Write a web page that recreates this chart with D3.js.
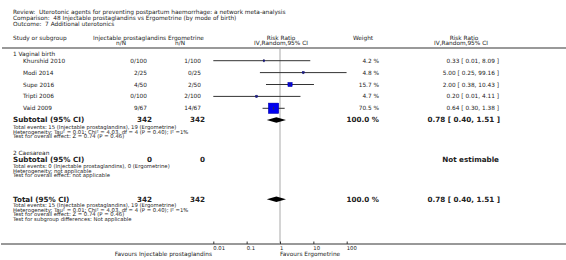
<!DOCTYPE html>
<html>
<head>
<meta charset="utf-8">
<script src="https://cdn.jsdelivr.net/npm/d3@7"></script>
<style>
  body { margin: 0; background: #fff; }
  text { font-family: "DejaVu Sans", Verdana, sans-serif; fill: #222; white-space: pre; }
</style>
</head>
<body>
<div id="chart"></div>
<script>
// titles
const titleLines = [
    "Review:  Uterotonic agents for preventing postpartum haemorrhage: a network meta-analysis",
    "Comparison:  48 Injectable prostaglandins vs Ergometrine (by mode of birth)",
    "Outcome:  7 Additional uterotonics"
];

// study data (subgroup 1: vaginal birth)
const studies = ["Khurshid 2010", "Modi 2014", "Supe 2016", "Tripti 2006", "Vaid 2009"];
const eventsInj = ["0/100", "2/25", "4/50", "0/100", "9/67"];
const eventsErg = ["1/100", "0/25", "2/50", "2/100", "14/67"];
const rr = [0.33, 5.00, 2.00, 0.20, 0.64];
const rrLow = [0.01, 0.25, 0.38, 0.01, 0.30];
const rrHigh = [8.09, 99.16, 10.43, 4.11, 1.38];
const weights = [4.2, 4.8, 15.7, 4.7, 70.5];

// pooled results
const pooled = {rr: 0.78, low: 0.40, high: 1.51};
const subtotalN = ["342", "342"];
const caesareanN = ["0", "0"];

const sub1Notes = [
    "Total events: 15 (Injectable prostaglandins), 19 (Ergometrine)",
    "Heterogeneity: Tau\u00b2 = 0.01; Chi\u00b2 = 4.03, df = 4 (P = 0.40); I\u00b2 =1%",
    "Test for overall effect: Z = 0.74 (P = 0.46)"
];
const sub2Notes = [
    "Total events: 0 (Injectable prostaglandins), 0 (Ergometrine)",
    "Heterogeneity: not applicable",
    "Test for overall effect: not applicable"
];
const totalNotes = [
    "Total events: 15 (Injectable prostaglandins), 19 (Ergometrine)",
    "Heterogeneity: Tau\u00b2 = 0.01; Chi\u00b2 = 4.03, df = 4 (P = 0.40); I\u00b2 =1%",
    "Test for overall effect: Z = 0.74 (P = 0.46)",
    "Test for subgroup differences: Not applicable"
];

const axisTicks = [0.01, 0.1, 1, 10, 100];
const tickLabels = ["0.01", "0.1", "1", "10", "100"];

const width = 566, height = 260;
const fmt = d3.format(".2f");
const fs = 5.8;

const svg = d3.select("#chart").append("svg")
    .attr("width", width)
    .attr("height", height);

// column positions
const col = {study: 13, indent: 23, injR: 147, ergR: 201, weightR: 379, rrR: 499};

// log scale for the forest plot
const x = d3.scaleLog().domain([0.01, 100]).range([213.3, 346.7]);

// title block
svg.selectAll(".title")
    .data(titleLines)
    .join("text")
    .attr("x", col.study)
    .attr("y", (d, i) => 13.8 + i * 6.1)
    .attr("font-size", fs)
    .text(d => d);

// header
const hdr = svg.append("g").attr("font-size", fs);
svg.append("clipPath").attr("id", "injclip")
    .append("rect").attr("x", 0).attr("y", 0).attr("width", 168).attr("height", 60);
hdr.append("text").attr("x", col.study).attr("y", 39.5).text("Study or subgroup");
hdr.append("text").attr("x", 93).attr("y", 39.5).attr("clip-path", "url(#injclip)").text("Injectable prostaglandins");
hdr.append("text").attr("x", 121).attr("y", 45).attr("text-anchor", "middle").text("n/N");
hdr.append("text").attr("x", 168).attr("y", 39.5).text("Ergometrine");
hdr.append("text").attr("x", 180).attr("y", 45).attr("text-anchor", "middle").text("n/N");
hdr.append("text").attr("x", 281).attr("y", 39.5).attr("text-anchor", "middle").text("Risk Ratio");
hdr.append("text").attr("x", 281).attr("y", 45).attr("text-anchor", "middle").text("IV,Random,95% CI");
hdr.append("text").attr("x", 363).attr("y", 39.5).attr("text-anchor", "middle").text("Weight");
hdr.append("text").attr("x", 464).attr("y", 39.5).attr("text-anchor", "middle").text("Risk Ratio");
hdr.append("text").attr("x", 461).attr("y", 45).attr("text-anchor", "middle").text("IV,Random,95% CI");

svg.append("line")
    .attr("x1", 2).attr("x2", width).attr("y1", 48).attr("y2", 48)
    .attr("stroke", "#999").attr("stroke-width", 2);

// line of no effect
svg.append("line")
    .attr("x1", x(1)).attr("x2", x(1)).attr("y1", 49).attr("y2", 243)
    .attr("stroke", "#d4d4d4").attr("stroke-width", 2);

// rows
const yStudy = d3.scalePoint().domain(studies).range([60.7, 108.3]);

svg.append("text").attr("x", col.study).attr("y", 56).attr("font-size", fs).text("1 Vaginal birth");

const rows = svg.selectAll(".row")
    .data(studies)
    .join("g")
    .attr("class", "row")
    .attr("font-size", fs);

rows.append("text").attr("x", col.indent).attr("y", d => yStudy(d) + 2).text(d => d);
rows.append("text").attr("x", col.injR).attr("y", d => yStudy(d) + 2).attr("text-anchor", "end").text((d, i) => eventsInj[i]);
rows.append("text").attr("x", col.ergR).attr("y", d => yStudy(d) + 2).attr("text-anchor", "end").text((d, i) => eventsErg[i]);
rows.append("text").attr("x", col.weightR).attr("y", d => yStudy(d) + 2).attr("text-anchor", "end").text((d, i) => weights[i].toFixed(1) + " %");
rows.append("text").attr("x", col.rrR).attr("y", d => yStudy(d) + 2).attr("text-anchor", "end")
    .text((d, i) => `${fmt(rr[i])} [ ${fmt(rrLow[i])}, ${fmt(rrHigh[i])} ]`);

// CI lines
rows.append("line")
    .attr("x1", (d, i) => x(rrLow[i]))
    .attr("x2", (d, i) => x(rrHigh[i]))
    .attr("y1", d => yStudy(d)).attr("y2", d => yStudy(d))
    .attr("stroke", "#333").attr("stroke-width", 1);

// squares, size by weight
const sz = d3.scalePow().exponent(0.5).domain([0.8, 100]).range([0, 12.75]);
rows.append("rect")
    .attr("x", (d, i) => x(rr[i]) - sz(weights[i]) / 2)
    .attr("y", (d, i) => yStudy(d) - sz(weights[i]) / 2)
    .attr("width", (d, i) => sz(weights[i]))
    .attr("height", (d, i) => sz(weights[i]))
    .attr("fill", "#0000f0")
    .attr("stroke", "#00008b")
    .attr("stroke-width", 0.4);
rows.append("line")
    .attr("x1", (d, i) => x(rr[i])).attr("x2", (d, i) => x(rr[i]))
    .attr("y1", d => yStudy(d) - 1.5).attr("y2", d => yStudy(d) + 1.5)
    .attr("stroke", "#333").attr("stroke-width", 0.8);

function diamond(cy) {
    const h = 2.8;
    svg.append("path")
        .attr("d", `M${x(pooled.low)},${cy} L${x(pooled.rr)},${cy - h} L${x(pooled.high)},${cy} L${x(pooled.rr)},${cy + h} Z`)
        .attr("fill", "#000");
}

function summaryRow(y, label, n, right) {
    const g = svg.append("g").attr("font-size", 7.2).attr("font-weight", "bold");
    g.append("text").attr("x", col.study).attr("y", y + 2.3).text(label);
    g.append("text").attr("x", col.injR + 5).attr("y", y + 2.3).attr("text-anchor", "end").text(n[0]);
    g.append("text").attr("x", col.ergR + 4).attr("y", y + 2.3).attr("text-anchor", "end").text(n[1]);
    if (right) {
        g.append("text").attr("x", col.weightR).attr("y", y + 2.3).attr("text-anchor", "end").text("100.0 %");
        g.append("text").attr("x", col.rrR + 1).attr("y", y + 2.3).attr("text-anchor", "end")
            .text(`${fmt(pooled.rr)} [ ${fmt(pooled.low)}, ${fmt(pooled.high)} ]`);
        diamond(y);
    } else {
        g.append("text").attr("x", col.rrR).attr("y", y + 2.3).attr("text-anchor", "end").text("Not estimable");
    }
}

function notes(y0, lines) {
    svg.append("g").attr("font-size", 5.3)
        .selectAll("text")
        .data(lines)
        .join("text")
        .attr("x", col.study)
        .attr("y", (d, i) => y0 + 2.2 + i * 4.6)
        .text(d => d);
}

summaryRow(120, "Subtotal (95% CI)", subtotalN, true);
notes(126.7, sub1Notes);

svg.append("text").attr("x", col.study).attr("y", 155).attr("font-size", fs).text("2 Caesarean");
summaryRow(159.5, "Subtotal (95% CI)", caesareanN, false);
notes(165.8, sub2Notes);

summaryRow(199.3, "Total (95% CI)", subtotalN, true);
notes(205, totalNotes);

// axis
const axis = d3.axisTop(x).tickValues(axisTicks).tickSize(2.5).tickFormat("");
const ag = svg.append("g").attr("transform", "translate(0,244)").call(axis);
ag.select(".domain").remove();
ag.selectAll("line").attr("stroke", "#333");
svg.append("line").attr("x1", 1).attr("x2", width).attr("y1", 244).attr("y2", 244)
    .attr("stroke", "#333").attr("stroke-width", 1);

svg.selectAll(".tlab")
    .data(axisTicks)
    .join("text")
    .attr("x", d => x(d))
    .attr("y", 249.5)
    .attr("font-size", 5.3)
    .text((d, i) => tickLabels[i]);

svg.append("text").attr("x", 212).attr("y", 255.5).attr("font-size", fs).attr("text-anchor", "end")
    .text("Favours Injectable prostaglandins");
svg.append("text").attr("x", 280).attr("y", 255.5).attr("font-size", fs)
    .text("Favours Ergometrine");
</script>
</body>
</html>
